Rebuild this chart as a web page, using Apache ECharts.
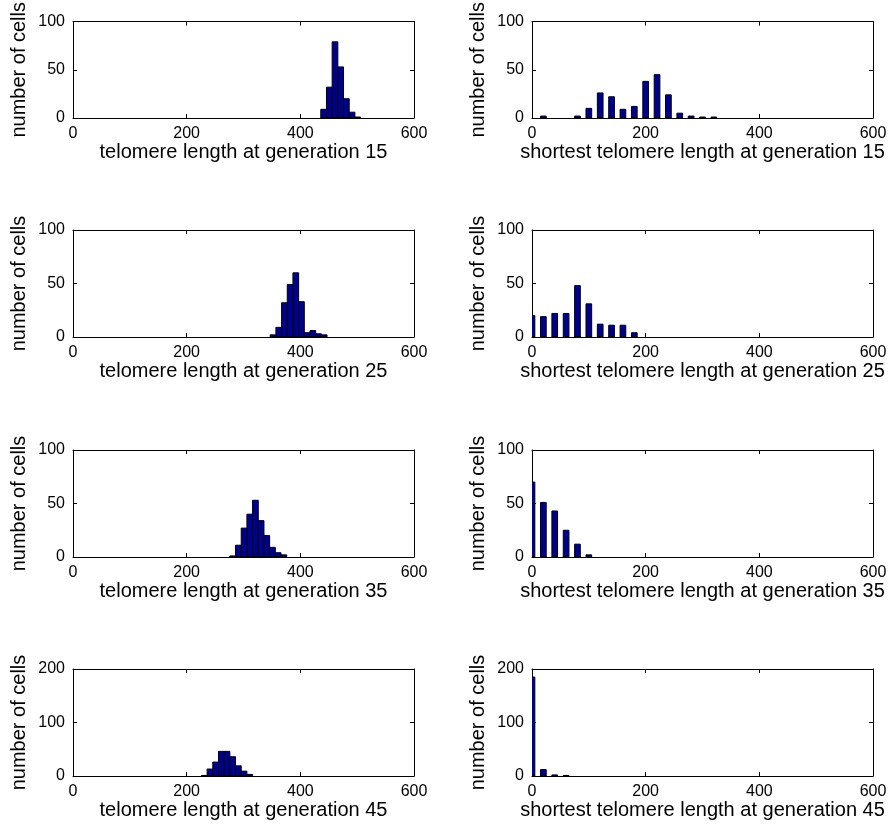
<!DOCTYPE html>
<html>
<head>
<meta charset="utf-8">
<script src="https://cdn.jsdelivr.net/npm/echarts@6/dist/echarts.min.js"></script>
<style>
html,body{margin:0;padding:0;background:#fff;}
#chart{width:893px;height:834px;}
</style>
</head>
<body>
<div id="chart"></div>
<script>
// ---- data (bin centres and counts) ----
const xTicks = [0, 200, 400, 600];
const generations = [15, 25, 35, 45];
const yMaxByRow = [100, 100, 100, 200];

// telomere length histograms (bin width 10)
const len15_x = [441, 451, 461, 471, 481, 491, 501];
const len15_n = [9, 32, 79, 53, 20, 6, 1];
const len25_x = [352, 362, 372, 382, 392, 402, 412, 422, 432, 442];
const len25_n = [2, 9, 32, 49, 60, 33, 4, 6, 3, 2];
const len35_x = [281, 291, 301, 311, 321, 331, 341, 351, 361, 371];
const len35_n = [1, 11, 27, 40, 53, 34, 20, 9, 4, 2];
const len45_x = [231, 241, 251, 261, 271, 281, 291, 301, 311];
const len45_n = [1, 13, 26, 46, 46, 36, 19, 9, 3];

// shortest telomere length histograms (bin width 10)
const short15_x = [20, 80, 100, 120, 140, 160, 180, 200, 220, 240, 260, 280, 300, 320];
const short15_n = [2, 2, 10, 26, 22, 9, 12, 38, 45, 24, 5, 2, 1, 1];
const short25_x = [0, 20, 40, 60, 80, 100, 120, 140, 160, 180];
const short25_n = [20, 19, 22, 22, 48, 31, 12, 11, 11, 4];
const short35_x = [0, 20, 40, 60, 80, 100];
const short35_n = [70, 51, 43, 25, 12, 2];
const short45_x = [0, 20, 40, 60];
const short45_n = [185, 12, 2, 1];

const BIN = 10;
const FONT = 'Liberation Sans, Arial, Helvetica, sans-serif';

const leftSets = [[len15_x, len15_n], [len25_x, len25_n], [len35_x, len35_n], [len45_x, len45_n]];
const rightSets = [[short15_x, short15_n], [short25_x, short25_n], [short35_x, short35_n], [short45_x, short45_n]];

// layout
const colLeft = [73, 532];
const plotW = 341;
const rowTop = [10, 230, 450, 669];
const plotH = [108, 107, 107, 107];

const grids = [], xAxes = [], yAxes = [], series = [];

function zip(xs, ns) { return xs.map((x, i) => [x, ns[i]]); }

function renderBar(params, api) {
  const x = api.value(0), y = api.value(1);
  const p0 = api.coord([x - BIN / 2, y]);
  const p1 = api.coord([x + BIN / 2, 0]);
  return {
    type: 'rect',
    shape: { x: p0[0], y: p0[1], width: p1[0] - p0[0], height: p1[1] - p0[1] },
    style: { fill: '#00008F', stroke: '#000', lineWidth: 1 }
  };
}

let gi = 0;
for (let r = 0; r < 4; r++) {
  for (let c = 0; c < 2; c++) {
    grids.push({ left: colLeft[c], top: rowTop[r], width: plotW, height: plotH[r], containLabel: false });
    const xname = (c === 0 ? 'telomere length at generation ' : 'shortest telomere length at generation ') + generations[r];
    const lineStyle = { color: '#000', width: 1 };
    // bottom x axis
    xAxes.push({
      gridIndex: gi, type: 'value', min: xTicks[0], max: xTicks[xTicks.length - 1], interval: 200,
      position: 'bottom',
      name: xname, nameLocation: 'middle', nameGap: 21,
      nameTextStyle: { fontFamily: FONT, fontSize: 20, color: '#000', verticalAlign: 'top' },
      axisLine: { show: true, onZero: false, lineStyle },
      axisTick: { show: true, inside: true, length: 4, lineStyle },
      axisLabel: { show: true, fontFamily: FONT, fontSize: 16, color: '#000', margin: 8 },
      splitLine: { show: false }
    });
    // top mirror x axis
    xAxes.push({
      gridIndex: gi, type: 'value', min: xTicks[0], max: xTicks[xTicks.length - 1], interval: 200,
      position: 'top',
      axisLine: { show: true, onZero: false, lineStyle },
      axisTick: { show: true, inside: true, length: 4, lineStyle },
      axisLabel: { show: false }, splitLine: { show: false }
    });
    const ymax = yMaxByRow[r];
    yAxes.push({
      gridIndex: gi, type: 'value', min: 0, max: ymax, interval: ymax / 2,
      position: 'left',
      name: 'number of cells', nameLocation: 'middle', nameGap: 44, nameRotate: 90,
      nameTextStyle: { fontFamily: FONT, fontSize: 20, color: '#000' },
      axisLine: { show: true, onZero: false, lineStyle },
      axisTick: { show: true, inside: true, length: 4, lineStyle },
      axisLabel: { show: true, fontFamily: FONT, fontSize: 16, color: '#000', margin: 8 },
      splitLine: { show: false }
    });
    yAxes.push({
      gridIndex: gi, type: 'value', min: 0, max: ymax, interval: ymax / 2,
      position: 'right',
      axisLine: { show: true, onZero: false, lineStyle },
      axisTick: { show: true, inside: true, length: 4, lineStyle },
      axisLabel: { show: false }, splitLine: { show: false }
    });
    const set = c === 0 ? leftSets[r] : rightSets[r];
    series.push({
      type: 'custom', renderItem: renderBar, clip: true,
      xAxisIndex: gi * 2, yAxisIndex: gi * 2,
      encode: { x: 0, y: 1 },
      data: zip(set[0], set[1]),
      silent: true
    });
    gi++;
  }
}

const chart = echarts.init(document.getElementById('chart'), null, { renderer: 'canvas' });
chart.setOption({
  animation: false,
  backgroundColor: '#fff',
  grid: grids, xAxis: xAxes, yAxis: yAxes, series: series
});
</script>
</body>
</html>
